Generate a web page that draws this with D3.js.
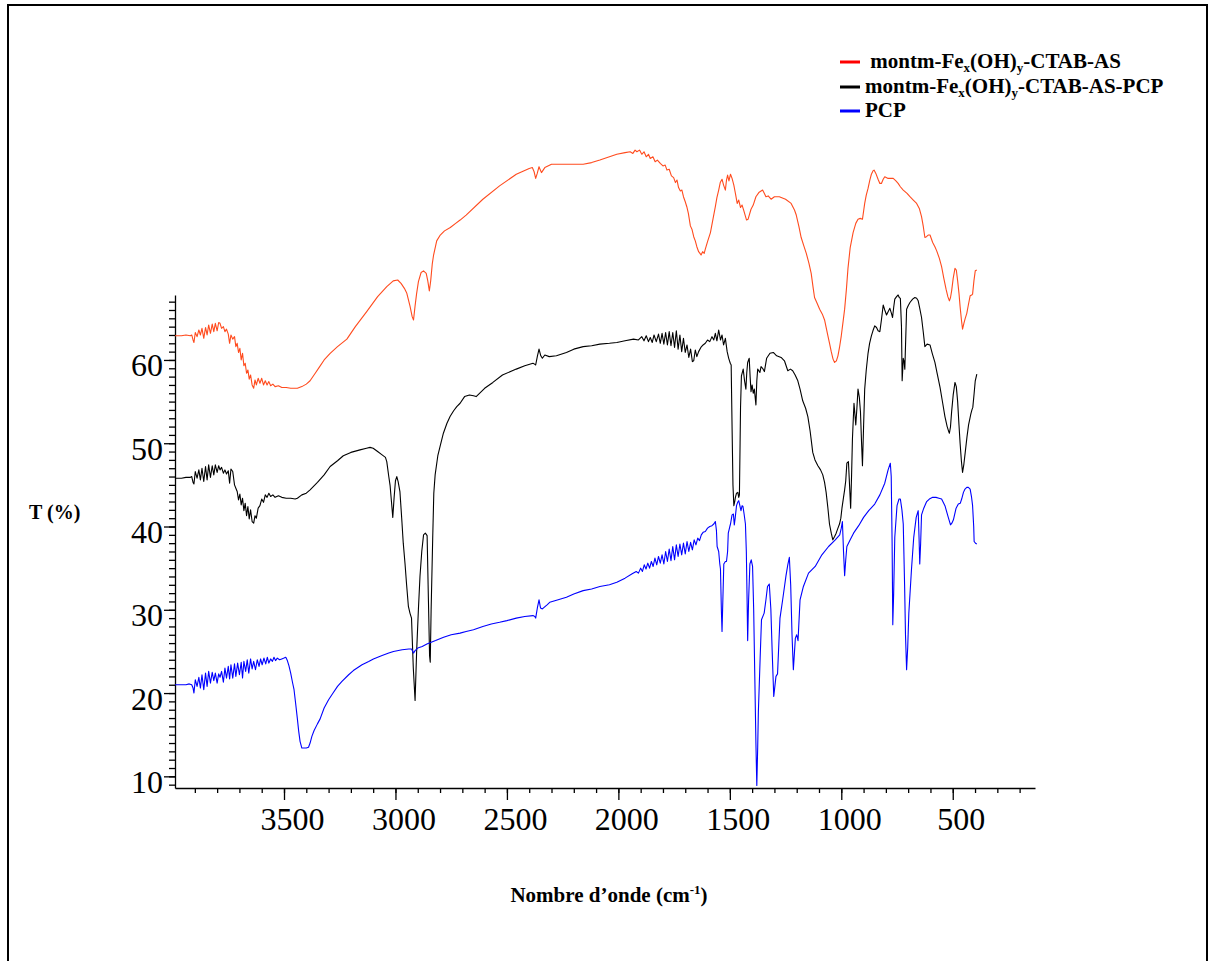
<!DOCTYPE html>
<html>
<head>
<meta charset="utf-8">
<script src="https://cdn.jsdelivr.net/npm/d3@7/dist/d3.min.js"></script>
<style>
  html, body { margin: 0; padding: 0; background: #fff; }
  svg { display: block; }
</style>
</head>
<body>
<svg id="chart" width="1215" height="961"></svg>
<script>
// FTIR spectra: [wavenumber (cm-1), transmittance (%)]
const spectrumAS = [
  [3989,62.9],[3960,62.9],[3940,63.0],[3920,62.9],[3914,63.0],[3908,62.4],[3904,62.1],[3898,63.3],[3890,62.8],
  [3882,63.6],[3875,63.0],[3868,63.8],[3860,62.6],[3852,63.9],[3845,63.0],[3838,64.2],[3830,63.2],[3822,64.3],
  [3815,63.4],[3808,64.4],[3800,63.5],[3793,64.5],[3787,64.4],[3780,63.8],[3772,64.0],[3765,63.4],[3758,63.7],
  [3750,63.1],[3744,62.0],[3738,63.0],[3730,62.5],[3722,62.8],[3716,61.6],[3710,62.0],[3704,60.9],[3698,61.4],
  [3692,60.0],[3686,60.8],[3680,59.3],[3674,59.6],[3668,58.4],[3662,58.8],[3656,57.7],[3650,58.2],[3643,57.0],
  [3636,56.6],[3630,57.6],[3624,57.0],[3616,57.8],[3608,57.2],[3600,57.8],[3592,57.0],[3584,57.5],[3576,57.0],
  [3568,57.4],[3560,56.9],[3550,57.1],[3540,56.8],[3525,56.9],[3510,56.7],[3490,56.7],[3470,56.6],[3450,56.6],
  [3440,56.6],[3420,56.8],[3400,57.1],[3383,57.5],[3360,58.4],[3340,59.2],[3320,60.0],[3293,60.8],[3260,61.6],
  [3218,62.5],[3180,64.0],[3129,65.8],[3080,67.6],[3039,68.8],[3010,69.5],[2990,69.6],[2975,69.2],[2960,68.6],
  [2949,68.0],[2935,66.5],[2925,65.2],[2919,64.8],[2912,66.5],[2905,68.0],[2897,69.4],[2885,70.5],[2874,70.7],
  [2862,70.4],[2855,69.5],[2848,68.3],[2842,69.5],[2835,71.5],[2829,72.6],[2815,74.3],[2799,75.0],[2780,75.5],
  [2754,75.9],[2730,76.4],[2710,76.8],[2683,77.4],[2608,79.3],[2533,80.9],[2458,82.3],[2400,83.0],[2386,83.1],
  [2378,82.6],[2371,81.8],[2364,82.4],[2356,83.2],[2350,82.8],[2345,82.5],[2330,83.1],[2300,83.5],[2250,83.5],
  [2200,83.5],[2158,83.5],[2120,83.7],[2083,84.0],[2040,84.4],[2007,84.7],[1970,84.9],[1947,85.0],[1935,84.8],
  [1925,85.2],[1917,85.0],[1905,85.2],[1895,84.7],[1885,85.0],[1875,84.4],[1865,84.7],[1857,84.2],[1845,84.4],
  [1835,83.8],[1825,84.0],[1812,83.6],[1800,83.3],[1790,83.4],[1782,82.8],[1772,82.9],[1762,82.1],[1752,81.9],
  [1744,81.3],[1737,81.6],[1730,80.7],[1722,80.3],[1715,80.4],[1708,79.6],[1700,79.0],[1693,78.4],[1686,77.6],
  [1677,76.1],[1670,75.7],[1662,74.8],[1655,74.3],[1648,73.6],[1640,73.0],[1634,72.8],[1629,72.6],[1622,73.0],
  [1615,72.8],[1610,73.3],[1600,74.2],[1587,75.3],[1575,77.0],[1565,78.4],[1558,79.5],[1550,80.4],[1543,81.3],
  [1535,81.7],[1528,81.0],[1520,80.4],[1515,81.6],[1510,82.2],[1504,81.5],[1497,82.3],[1490,81.8],[1482,81.0],
  [1475,80.0],[1467,78.8],[1460,79.2],[1452,78.3],[1445,78.6],[1437,77.9],[1425,76.8],[1418,76.9],[1405,78.1],
  [1395,78.6],[1383,79.6],[1370,80.1],[1353,80.4],[1345,80.0],[1338,79.6],[1328,79.7],[1315,79.3],[1300,79.6],
  [1278,79.6],[1250,79.3],[1225,78.8],[1210,78.0],[1202,77.4],[1190,76.0],[1180,74.7],[1168,73.7],[1157,72.8],
  [1145,71.6],[1135,70.4],[1127,68.8],[1120,67.5],[1110,66.9],[1097,66.1],[1085,65.5],[1075,64.8],[1068,63.9],
  [1060,62.9],[1052,61.9],[1045,61.0],[1037,60.1],[1030,59.7],[1022,59.9],[1015,60.5],[1008,61.5],[1000,62.9],
  [992,64.6],[985,66.1],[977,68.5],[970,71.0],[960,73.5],[947,75.3],[935,76.4],[925,76.9],[915,77.0],[905,76.9],
  [895,78.8],[888,79.8],[880,80.6],[872,81.6],[865,82.3],[858,82.7],[853,82.8],[845,82.4],[835,81.7],[827,81.2],
  [820,81.2],[812,81.7],[805,82.0],[790,81.8],[767,81.8],[755,81.5],[745,81.2],[735,80.8],[722,80.4],[705,80.0],
  [692,79.6],[677,79.2],[662,78.8],[650,78.2],[640,77.2],[632,76.0],[625,74.7],[618,74.8],[610,75.0],[602,75.0],
  [590,74.1],[580,73.6],[572,73.1],[560,72.2],[550,71.2],[540,69.8],[530,68.5],[522,67.6],[515,67.1],[510,67.5],
  [505,68.3],[498,69.8],[490,71.0],[484,70.8],[478,69.5],[472,68.0],[467,66.4],[461,64.8],[456,63.7],[450,64.4],
  [444,65.0],[437,65.6],[430,66.6],[422,67.7],[415,67.8],[411,67.9],[405,69.5],[399,70.7],[392,70.8]
];

const spectrumASPCP = [
  [3989,45.8],[3960,45.8],[3940,45.9],[3920,45.9],[3914,46.0],[3908,45.3],[3904,45.1],[3898,46.6],[3890,45.8],
  [3882,46.8],[3875,45.6],[3868,47.0],[3860,45.4],[3852,47.2],[3845,45.6],[3838,47.4],[3830,45.9],[3822,47.3],
  [3815,46.2],[3808,47.4],[3800,46.5],[3793,47.3],[3787,46.8],[3780,47.1],[3772,46.4],[3765,46.8],[3758,46.3],
  [3750,46.7],[3744,45.2],[3738,46.9],[3730,46.6],[3722,45.0],[3716,44.6],[3710,44.2],[3704,43.2],[3698,43.9],
  [3692,42.6],[3686,43.4],[3680,41.9],[3674,42.8],[3668,41.3],[3662,42.4],[3656,40.9],[3650,42.0],[3643,40.6],
  [3636,40.4],[3630,41.3],[3624,41.0],[3616,42.2],[3608,42.5],[3600,43.3],[3592,42.9],[3584,43.8],[3576,43.5],
  [3568,44.0],[3560,43.6],[3550,43.8],[3540,43.5],[3525,43.7],[3510,43.5],[3490,43.4],[3470,43.4],[3450,43.3],
  [3440,43.4],[3420,43.8],[3400,44.0],[3383,44.4],[3350,45.3],[3320,46.2],[3293,47.2],[3260,47.9],[3234,48.5],
  [3200,48.9],[3159,49.2],[3130,49.4],[3114,49.5],[3100,49.4],[3080,49.0],[3060,48.6],[3045,48.3],[3039,47.8],
  [3030,46.0],[3024,44.9],[3018,43.0],[3012,41.1],[3006,43.5],[3000,45.5],[2994,46.0],[2988,45.4],[2980,44.2],
  [2972,41.0],[2965,38.0],[2957,35.5],[2950,33.0],[2942,30.4],[2935,29.6],[2928,29.0],[2920,23.0],[2912,19.1],
  [2905,25.0],[2897,30.1],[2890,34.0],[2882,37.0],[2874,39.0],[2866,39.2],[2858,38.9],[2852,31.0],[2847,24.5],
  [2844,23.7],[2840,30.0],[2833,38.5],[2828,44.0],[2822,46.2],[2810,48.5],[2799,49.7],[2785,51.2],[2769,52.4],
  [2755,53.2],[2739,53.9],[2725,54.4],[2710,54.8],[2690,55.6],[2668,55.8],[2650,55.7],[2638,55.6],[2600,56.6],
  [2563,57.3],[2520,58.2],[2458,58.9],[2420,59.3],[2383,59.6],[2376,59.5],[2371,59.4],[2363,60.5],[2356,61.3],
  [2348,60.5],[2341,60.2],[2330,60.6],[2310,60.4],[2278,60.5],[2233,60.9],[2200,61.3],[2158,61.6],[2120,61.7],
  [2083,61.9],[2040,62.0],[2007,62.1],[1970,62.3],[1932,62.5],[1910,62.4],[1895,62.8],[1885,62.3],[1875,62.9],
  [1865,62.2],[1857,62.7],[1848,62.1],[1840,63.0],[1830,62.2],[1820,63.1],[1812,62.0],[1804,63.2],[1796,61.9],
  [1788,63.3],[1780,61.8],[1772,63.4],[1764,61.7],[1756,63.3],[1748,61.5],[1740,63.5],[1732,61.3],[1724,63.0],
  [1716,61.0],[1708,62.6],[1700,60.9],[1692,61.8],[1684,60.3],[1676,61.3],[1668,59.8],[1662,59.9],[1655,61.2],
  [1648,60.4],[1640,61.0],[1630,61.5],[1620,61.8],[1610,62.0],[1600,62.4],[1590,62.2],[1580,62.8],[1572,62.4],
  [1565,63.2],[1558,62.3],[1550,63.6],[1542,62.4],[1535,63.0],[1528,61.8],[1520,62.6],[1512,61.0],[1505,60.2],
  [1498,59.6],[1494,59.4],[1490,52.0],[1486,45.0],[1482,42.5],[1478,43.0],[1475,43.5],[1470,44.0],[1464,44.1],
  [1460,43.5],[1457,43.8],[1454,50.0],[1452,54.3],[1448,58.1],[1440,58.9],[1434,57.5],[1428,56.5],[1424,58.5],
  [1420,59.7],[1413,60.2],[1409,58.0],[1405,56.2],[1400,57.0],[1395,56.0],[1390,56.5],[1383,54.6],[1379,57.5],
  [1375,58.9],[1365,58.5],[1360,59.2],[1353,59.0],[1345,58.6],[1335,60.2],[1320,60.8],[1305,60.9],[1290,60.5],
  [1270,60.3],[1255,59.9],[1240,58.7],[1228,58.9],[1218,58.7],[1207,58.2],[1195,57.5],[1185,56.5],[1173,55.1],
  [1160,54.2],[1150,53.2],[1140,51.5],[1128,48.9],[1118,48.0],[1105,47.3],[1093,46.8],[1083,46.2],[1075,45.3],
  [1068,44.1],[1060,42.2],[1053,40.3],[1045,39.2],[1038,38.4],[1030,38.8],[1023,39.2],[1015,39.8],[1008,40.3],
  [1002,41.0],[997,42.2],[990,43.5],[985,44.4],[980,45.5],[975,47.6],[968,47.8],[963,45.0],[958,42.2],[954,46.0],
  [950,50.5],[946,53.0],[943,54.8],[939,53.5],[935,52.2],[930,54.2],[925,56.5],[919,55.5],[914,53.8],[909,50.0],
  [905,47.3],[900,52.0],[895,56.5],[888,58.8],[880,60.8],[873,62.0],[865,62.9],[858,63.5],[850,64.1],[842,63.9],
  [835,63.5],[827,63.4],[820,64.8],[812,66.6],[805,66.0],[797,65.4],[790,65.8],[782,66.2],[775,65.6],[770,65.1],
  [765,66.3],[760,67.3],[752,67.6],[745,67.8],[740,67.5],[735,67.4],[730,64.0],[727,57.5],[724,59.0],[722,60.2],
  [718,59.8],[715,58.9],[711,62.5],[707,66.1],[700,66.5],[692,66.9],[680,67.3],[670,67.5],[662,67.4],[655,67.1],
  [648,66.2],[640,65.1],[632,63.3],[625,61.6],[615,61.9],[602,61.8],[592,60.8],[580,59.7],[570,58.4],[557,56.7],
  [545,54.8],[535,53.2],[525,52.0],[518,51.4],[515,51.2],[510,52.0],[505,53.8],[498,55.8],[490,57.3],[484,56.8],
  [478,55.0],[472,52.2],[467,50.0],[461,47.8],[456,46.5],[450,47.5],[444,48.9],[436,50.8],[429,52.2],[422,53.1],
  [419,53.5],[414,54.0],[410,54.3],[404,56.0],[399,57.5],[392,58.3]
];

const spectrumPCP = [
  [3989,21.0],[3960,21.0],[3940,21.0],[3925,21.1],[3914,21.0],[3908,20.6],[3904,20.0],[3898,21.6],[3890,20.8],
  [3882,21.9],[3875,20.6],[3868,22.2],[3860,20.4],[3852,22.4],[3845,20.8],[3838,22.6],[3830,21.2],[3822,22.5],
  [3815,21.5],[3808,22.4],[3800,21.2],[3793,22.3],[3787,21.9],[3780,22.6],[3772,21.3],[3765,23.0],[3758,21.8],
  [3750,23.2],[3744,21.7],[3738,23.4],[3730,21.8],[3722,23.5],[3716,22.0],[3708,23.6],[3700,22.2],[3692,23.7],
  [3686,21.8],[3680,23.8],[3672,22.6],[3665,24.0],[3658,22.4],[3650,24.1],[3643,22.9],[3636,23.8],[3628,22.8],
  [3620,24.0],[3612,23.2],[3605,24.1],[3598,23.4],[3590,24.2],[3582,23.5],[3575,24.3],[3568,23.6],[3560,24.1],
  [3552,23.8],[3545,24.3],[3538,23.9],[3530,24.2],[3520,24.0],[3510,24.1],[3500,24.2],[3492,24.3],[3485,23.9],
  [3478,23.3],[3470,22.4],[3462,21.3],[3455,20.4],[3448,18.8],[3440,16.9],[3434,15.4],[3428,14.2],[3420,13.4],
  [3410,13.4],[3400,13.4],[3390,13.5],[3383,14.0],[3375,14.8],[3365,15.5],[3350,16.3],[3338,16.9],[3320,18.2],
  [3300,19.2],[3280,20.0],[3260,20.8],[3240,21.4],[3210,22.2],[3189,22.7],[3150,23.4],[3120,23.8],[3099,24.1],
  [3060,24.5],[3030,24.8],[3009,25.0],[2970,25.2],[2940,25.3],[2928,25.3],[2919,24.8],[2912,25.1],[2900,25.4],
  [2880,25.6],[2859,25.9],[2820,26.3],[2784,26.7],[2750,27.0],[2710,27.2],[2683,27.4],[2650,27.6],[2608,28.0],
  [2570,28.3],[2533,28.5],[2500,28.7],[2458,29.0],[2420,29.2],[2383,29.3],[2375,29.2],[2371,29.0],[2363,30.3],
  [2356,31.2],[2349,30.2],[2341,30.1],[2320,30.6],[2308,30.9],[2270,31.2],[2233,31.5],[2200,31.9],[2158,32.3],
  [2120,32.5],[2083,32.8],[2040,33.0],[2007,33.3],[1970,33.8],[1940,34.3],[1920,34.6],[1910,34.4],[1900,35.0],
  [1892,34.6],[1884,35.4],[1876,34.9],[1868,35.6],[1860,35.0],[1852,35.8],[1844,35.2],[1836,36.2],[1828,35.4],
  [1820,36.4],[1812,35.6],[1804,36.6],[1796,35.5],[1788,37.0],[1780,35.8],[1772,37.3],[1764,35.9],[1756,37.6],
  [1748,36.0],[1740,37.8],[1732,36.4],[1724,37.9],[1716,36.6],[1708,38.0],[1700,36.7],[1692,38.2],[1684,37.0],
  [1676,38.1],[1668,37.2],[1660,38.4],[1652,37.8],[1644,38.6],[1636,38.3],[1628,39.0],[1620,39.3],[1610,39.4],
  [1600,39.8],[1590,40.0],[1580,40.1],[1572,40.3],[1565,40.6],[1560,39.5],[1557,37.6],[1550,37.0],[1545,35.5],
  [1542,34.9],[1538,30.0],[1535,27.4],[1531,31.5],[1527,35.5],[1520,35.8],[1515,35.8],[1510,37.0],[1507,39.2],
  [1500,40.0],[1497,40.3],[1490,41.4],[1484,41.5],[1480,40.2],[1476,41.0],[1470,42.5],[1465,42.9],[1460,43.1],
  [1455,42.5],[1450,41.9],[1445,42.5],[1441,42.4],[1436,41.5],[1430,40.3],[1426,37.0],[1423,32.0],[1420,26.3],
  [1416,31.0],[1410,35.5],[1404,36.0],[1398,35.2],[1393,30.0],[1388,22.0],[1383,14.0],[1379,8.9],[1375,13.5],
  [1372,17.7],[1364,24.2],[1358,28.8],[1346,29.6],[1338,31.2],[1331,32.8],[1323,33.1],[1316,30.1],[1310,25.0],
  [1303,19.6],[1293,22.0],[1286,22.3],[1280,26.0],[1275,29.0],[1263,31.2],[1248,34.1],[1240,35.4],[1233,36.3],
  [1227,33.0],[1221,27.0],[1215,22.8],[1206,26.6],[1200,27.0],[1194,26.3],[1185,31.2],[1170,32.8],[1147,34.4],
  [1117,35.2],[1087,36.6],[1057,37.6],[1027,38.4],[1007,39.0],[1000,39.8],[995,40.6],[990,37.0],[985,34.1],
  [980,36.0],[975,37.6],[960,38.4],[945,39.2],[922,40.1],[900,41.1],[877,41.9],[850,42.7],[827,43.8],[805,45.2],
  [790,46.8],[780,47.6],[776,46.0],[772,38.0],[769,28.2],[765,32.0],[760,38.7],[750,42.5],[741,43.3],[735,43.3],
  [728,42.0],[722,40.3],[716,33.0],[712,27.0],[707,22.8],[702,25.5],[697,29.6],[685,34.9],[675,38.7],[664,41.1],
  [655,41.9],[651,38.5],[648,35.5],[644,38.0],[640,41.4],[630,42.2],[617,43.0],[605,43.3],[590,43.5],[575,43.5],
  [562,43.4],[550,43.3],[535,42.5],[520,41.1],[510,40.2],[504,40.4],[497,40.8],[485,42.2],[475,42.7],[466,42.8],
  [460,43.3],[452,44.1],[445,44.5],[437,44.7],[430,44.7],[422,44.5],[416,43.6],[411,42.5],[406,40.0],[404,38.2],
  [398,38.0],[392,37.9]
];

// legend entries: plain text pieces and subscripts
const seriesNames = [
  [" montm-Fe", {sub: "x"}, "(OH)", {sub: "y"}, "-CTAB-AS"],
  ["montm-Fe", {sub: "x"}, "(OH)", {sub: "y"}, "-CTAB-AS-PCP"],
  ["PCP"]
];
const seriesColors = ["#ff4b1e", "#000000", "#0000ff"];
const legendColors = ["#ff0000", "#000000", "#0000ff"];

const xTickLabels = [3500, 3000, 2500, 2000, 1500, 1000, 500];
const yTickLabels = [10, 20, 30, 40, 50, 60];
const xMinorTicks = d3.range(3900, 199, -100);
const yMinorTicks = d3.range(9, 68, 1);

const svg = d3.select("#chart");
const serif = '"Liberation Serif", "Times New Roman", serif';

// outer frame
svg.append("path")
  .attr("d", "M8,961 L8,5 L1207,5 L1207,961")
  .attr("fill", "none").attr("stroke", "#000").attr("stroke-width", 2);

const x = d3.scaleLinear().domain([3989, 131]).range([175, 1035]);
const y = d3.scaleLinear().domain([8.6, 67.8]).range([788, 295]);

// minor ticks
svg.append("g").attr("transform", "translate(0,788)")
  .call(d3.axisBottom(x).tickValues(xMinorTicks).tickSize(5).tickSizeOuter(0).tickFormat(""))
  .call(g => g.select(".domain").remove());
svg.append("g").attr("transform", "translate(175,0)")
  .call(d3.axisLeft(y).tickValues(yMinorTicks).tickSize(6).tickSizeOuter(0).tickFormat(""))
  .call(g => g.select(".domain").remove());

// major ticks and labels
const xAxis = svg.append("g").attr("transform", "translate(0,788)")
  .call(d3.axisBottom(x).tickValues(xTickLabels).tickSize(12).tickSizeOuter(0).tickFormat(d3.format("d")));
xAxis.selectAll(".tick text")
  .attr("y", 42).attr("dy", 0).attr("dx", 8).attr("fill", "#000")
  .attr("font-family", serif).attr("font-size", 32);

const yAxis = svg.append("g").attr("transform", "translate(175,0)")
  .call(d3.axisLeft(y).tickValues(yTickLabels).tickSize(11).tickPadding(1).tickSizeOuter(0));
yAxis.selectAll(".tick text")
  .attr("dy", "0.5em").attr("fill", "#000")
  .attr("font-family", serif).attr("font-size", 32);

svg.selectAll(".domain, .tick line").attr("stroke", "#000").attr("stroke-width", 1.3);

// spectra
const line = d3.line().x(d => x(d[0])).y(d => y(d[1]));
[spectrumAS, spectrumASPCP, spectrumPCP].forEach((s, i) => {
  svg.append("path").datum(s)
    .attr("d", line)
    .attr("fill", "none")
    .attr("stroke", seriesColors[i])
    .attr("stroke-width", 1.1)
    .attr("stroke-linejoin", "round");
});

// legend
const legendRows = [
  { swatchY: 62, baseY: 68, textX: 865 },
  { swatchY: 87, baseY: 93, textX: 865 },
  { swatchY: 111, baseY: 117, textX: 865 }
];
seriesNames.forEach((parts, i) => {
  const r = legendRows[i];
  svg.append("line")
    .attr("x1", 840).attr("x2", 860).attr("y1", r.swatchY).attr("y2", r.swatchY)
    .attr("stroke", legendColors[i]).attr("stroke-width", 3);
  const t = svg.append("text")
    .attr("x", r.textX).attr("y", r.baseY)
    .attr("font-family", serif).attr("font-weight", "bold").attr("font-size", 21)
    .attr("xml:space", "preserve");
  let lowered = false;
  parts.forEach(p => {
    if (typeof p === "object") {
      t.append("tspan").attr("font-size", 13).attr("dy", 4).text(p.sub);
      lowered = true;
    } else {
      const ts = t.append("tspan").text(p);
      if (lowered) { ts.attr("dy", -4); lowered = false; }
    }
  });
});

// axis titles
svg.append("text")
  .attr("x", 29).attr("y", 519)
  .attr("font-family", serif).attr("font-weight", "bold").attr("font-size", 20)
  .text("T (%)");

const xt = svg.append("text")
  .attr("x", 609).attr("y", 902).attr("text-anchor", "middle")
  .attr("font-family", serif).attr("font-weight", "bold").attr("font-size", 21);
xt.append("tspan").text("Nombre d\u2019onde (cm");
xt.append("tspan").attr("font-size", 13).attr("dy", -8).text("-1");
xt.append("tspan").attr("dy", 8).text(")");
</script>
</body>
</html>
